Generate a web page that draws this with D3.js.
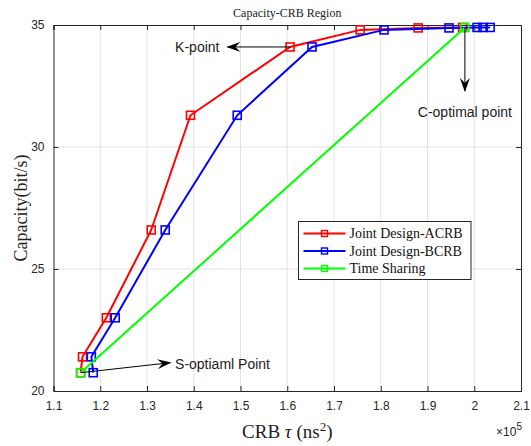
<!DOCTYPE html>
<html>
<head>
<meta charset="utf-8">
<script src="https://cdn.jsdelivr.net/npm/d3@7"></script>
<style>
  body { margin: 0; background: #fff; }
  svg { display: block; }
</style>
</head>
<body>
<div id="chart"></div>
<script>
// values (x in units of 1e5 ns^2)
var acrbX = [1.158, 1.162, 1.213, 1.309, 1.393, 1.606, 1.756, 1.880, 1.975];
var acrbY = [20.75, 21.4, 23.0, 26.6, 31.3, 34.1, 34.8, 34.88, 34.9];
var bcrbX = [1.185, 1.181, 1.232, 1.339, 1.493, 1.653, 1.807, 1.946, 2.006, 2.019, 2.034];
var bcrbY = [20.75, 21.4, 23.0, 26.6, 31.3, 34.1, 34.8, 34.88, 34.9, 34.9, 34.9];
var tsX = [1.158, 1.980];
var tsY = [20.75, 34.9];
var xTicks = [1.1, 1.2, 1.3, 1.4, 1.5, 1.6, 1.7, 1.8, 1.9, 2, 2.1];
var yTicks = [20, 25, 30, 35];
var seriesNames = ["Joint Design-ACRB", "Joint Design-BCRB", "Time Sharing"];
var seriesColors = ["#ff0000", "#0000ff", "#00ff00"];

var width = 531, height = 446;
var margin = {top: 25, right: 10, bottom: 55, left: 53.5};

var svg = d3.select('#chart')
	.append('svg')
	.attr('width', width)
	.attr('height', height);

var x = d3.scaleLinear().domain([1.1, 2.1]).range([margin.left, width - margin.right]);
var y = d3.scaleLinear().domain([20, 35]).range([height - margin.bottom, margin.top]);

var axisColor = "#262626";
var tickFont = "'Liberation Sans', Arial, sans-serif";
var serif = "'Liberation Serif', 'Times New Roman', serif";

// grid
svg.append('g')
	.selectAll('line')
	.data(xTicks.slice(1, -1))
	.enter()
	.append('line')
		.attr('x1', function(d) { return x(d); })
		.attr('x2', function(d) { return x(d); })
		.attr('y1', y(20)).attr('y2', y(35))
		.attr('stroke', '#e3e3e3').attr('stroke-width', 1);
svg.append('g')
	.selectAll('line')
	.data(yTicks.slice(1, -1))
	.enter()
	.append('line')
		.attr('x1', x(1.1)).attr('x2', x(2.1))
		.attr('y1', function(d) { return y(d); })
		.attr('y2', function(d) { return y(d); })
		.attr('stroke', '#e3e3e3').attr('stroke-width', 1);

// axes (ticks pointing inward, like matlab)
var xAxis = svg.append('g')
	.attr('transform', 'translate(0,' + y(20) + ')')
	.call(d3.axisBottom(x).tickValues(xTicks).tickSize(-5).tickPadding(10).tickFormat(d3.format('')));
var xAxisTop = svg.append('g')
	.attr('transform', 'translate(0,' + y(35) + ')')
	.call(d3.axisTop(x).tickValues(xTicks).tickSize(-5).tickFormat(''));
var yAxis = svg.append('g')
	.attr('transform', 'translate(' + x(1.1) + ',0)')
	.call(d3.axisLeft(y).tickValues(yTicks).tickSize(-5).tickPadding(9));
var yAxisRight = svg.append('g')
	.attr('transform', 'translate(' + x(2.1) + ',0)')
	.call(d3.axisRight(y).tickValues(yTicks).tickSize(-5).tickFormat(''));

[xAxis, xAxisTop, yAxis, yAxisRight].forEach(function(a) {
	a.selectAll('path').attr('stroke', axisColor).attr('stroke-width', 1);
	a.selectAll('line').attr('stroke', axisColor);
	a.selectAll('text').attr('fill', axisColor).style('font-family', tickFont).style('font-size', '12px');
});

// series
var series = [
	{name: seriesNames[0], color: seriesColors[0], xs: acrbX, ys: acrbY},
	{name: seriesNames[1], color: seriesColors[1], xs: bcrbX, ys: bcrbY},
	{name: seriesNames[2], color: seriesColors[2], xs: tsX, ys: tsY}
];
var line = d3.line()
	.x(function(d) { return x(d[0]); })
	.y(function(d) { return y(d[1]); });
var ms = 8;

series.forEach(function(s) {
	var pts = s.xs.map(function(v, i) { return [v, s.ys[i]]; });
	var g = svg.append('g');
	g.append('path')
		.attr('d', line(pts))
		.attr('fill', 'none')
		.attr('stroke', s.color)
		.attr('stroke-width', 2);
	g.selectAll('rect')
		.data(pts)
		.enter()
		.append('rect')
			.attr('x', function(d) { return x(d[0]) - ms / 2; })
			.attr('y', function(d) { return y(d[1]) - ms / 2; })
			.attr('width', ms).attr('height', ms)
			.attr('fill', 'none')
			.attr('stroke', s.color)
			.attr('stroke-width', 1.6);
});

// annotations
svg.append('defs').append('marker')
	.attr('id', 'arrow')
	.attr('viewBox', '0 0 14 10')
	.attr('refX', 13).attr('refY', 5)
	.attr('markerWidth', 14).attr('markerHeight', 10)
	.attr('markerUnits', 'userSpaceOnUse')
	.attr('orient', 'auto')
	.append('path')
		.attr('d', 'M0,0 L14,5 L0,10 L5,5 Z')
		.attr('fill', '#000');

var arrows = [
	{from: [1.606, 34.1], to: [1.472, 34.1]},
	{from: [1.980, 34.9], to: [1.980, 32.3]},
	{from: [1.158, 20.75], to: [1.350, 21.16]}
];
svg.append('g')
	.selectAll('line')
	.data(arrows)
	.enter()
	.append('line')
		.attr('x1', function(d) { return x(d.from[0]); })
		.attr('y1', function(d) { return y(d.from[1]); })
		.attr('x2', function(d) { return x(d.to[0]); })
		.attr('y2', function(d) { return y(d.to[1]); })
		.attr('stroke', '#000')
		.attr('stroke-width', 1)
		.attr('marker-end', 'url(#arrow)');

var notes = [
	{text: 'K-point', at: [1.455, 34.1], anchor: 'end'},
	{text: 'C-optimal point', at: [1.98, 31.45], anchor: 'middle'},
	{text: 'S-optiaml Point', at: [1.36, 21.1], anchor: 'start'}
];
svg.append('g')
	.selectAll('text')
	.data(notes)
	.enter()
	.append('text')
		.text(function(d) { return d.text; })
		.attr('x', function(d) { return x(d.at[0]); })
		.attr('y', function(d) { return y(d.at[1]); })
		.attr('dy', '0.35em')
		.attr('text-anchor', function(d) { return d.anchor; })
		.style('font-family', tickFont)
		.style('font-size', '14px')
		.attr('fill', '#222');

// legend
var legend = svg.append('g').attr('transform', 'translate(298.5,221.5)');
legend.append('rect')
	.attr('width', 172.5).attr('height', 58)
	.attr('fill', '#fff')
	.attr('stroke', axisColor).attr('stroke-width', 1);
var li = legend.selectAll('g')
	.data(series)
	.enter()
	.append('g')
		.attr('transform', function(d, i) { return 'translate(0,' + (12 + i * 17.5) + ')'; });
li.append('line')
	.attr('x1', 5).attr('x2', 47)
	.attr('stroke', function(d) { return d.color; })
	.attr('stroke-width', 2);
li.append('rect')
	.attr('x', 26 - ms / 2 + 1).attr('y', -3).attr('width', 6).attr('height', 6)
	.attr('fill', 'none')
	.attr('stroke', function(d) { return d.color; })
	.attr('stroke-width', 1.4);
li.append('text')
	.text(function(d) { return d.name; })
	.attr('x', 51).attr('dy', '0.35em')
	.style('font-family', serif)
	.style('font-size', '14px')
	.attr('fill', '#111');

// title and labels
svg.append('text')
	.text('Capacity-CRB Region')
	.attr('x', (x(1.1) + x(2.1)) / 2).attr('y', 17)
	.attr('text-anchor', 'middle')
	.style('font-family', serif).style('font-size', '12px')
	.attr('fill', '#222');

var xl = svg.append('text')
	.attr('x', (x(1.1) + x(2.1)) / 2).attr('y', 438)
	.attr('text-anchor', 'middle')
	.style('font-family', serif).style('font-size', '19px')
	.attr('fill', '#222');
xl.append('tspan').text('CRB ');
xl.append('tspan').text('τ').style('font-style', 'italic');
xl.append('tspan').text(' (ns');
xl.append('tspan').text('2').attr('dy', -7).style('font-size', '13px');
xl.append('tspan').text(')').attr('dy', 7);

svg.append('text')
	.text('Capacity(bit/s)')
	.attr('transform', 'translate(27,' + ((y(20) + y(35)) / 2) + ') rotate(-90)')
	.attr('text-anchor', 'middle')
	.style('font-family', serif).style('font-size', '18px')
	.attr('fill', '#222');

var ex = svg.append('text')
	.attr('x', x(2.1) + 1).attr('y', 436)
	.attr('text-anchor', 'end')
	.style('font-family', tickFont).style('font-size', '12px')
	.attr('fill', axisColor);
ex.append('tspan').text('×10');
ex.append('tspan').text('5').attr('dy', -6).style('font-size', '10px');
</script>
</body>
</html>
